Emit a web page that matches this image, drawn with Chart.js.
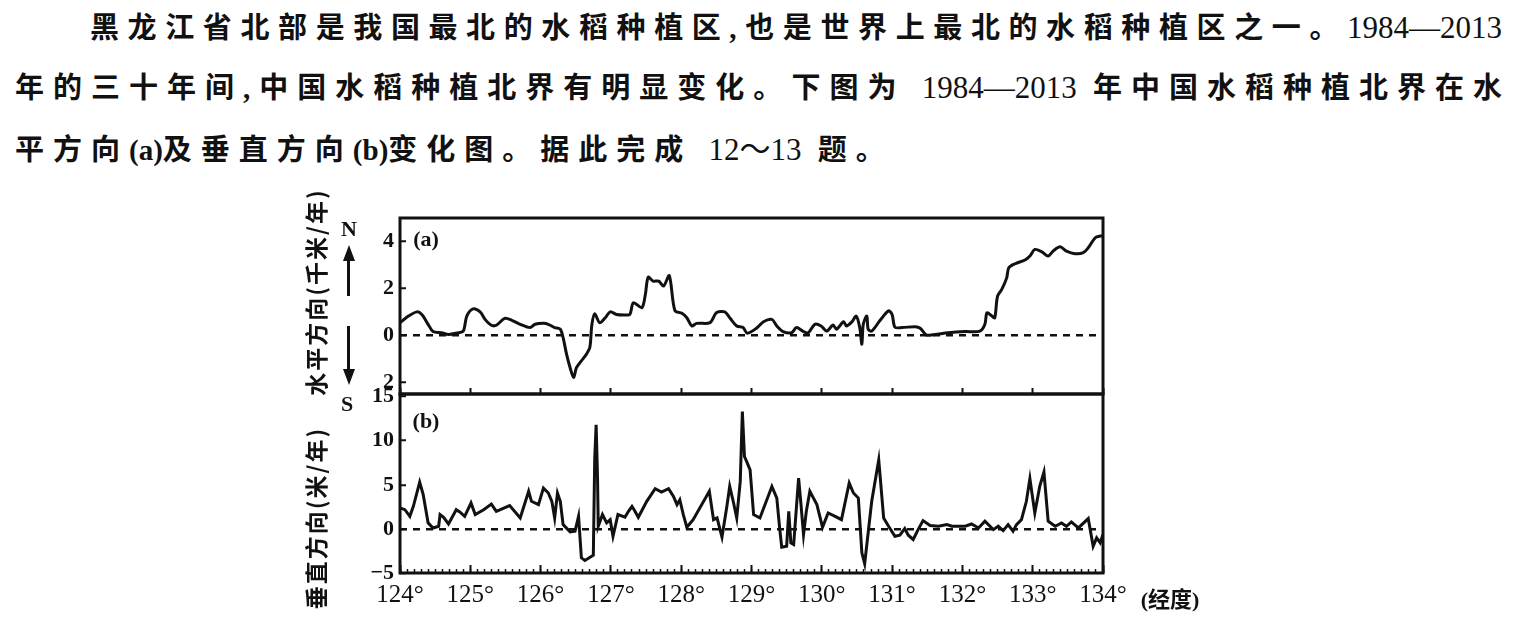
<!DOCTYPE html>
<html>
<head>
<meta charset="utf-8">
<script src="https://cdn.jsdelivr.net/npm/chart.js@4"></script>
<style>
  body { margin: 0; width: 1515px; height: 626px; background: #fff; overflow: hidden; position: relative;
         font-family: "Liberation Serif", "Noto Sans CJK SC", serif; color: #111; }
  .ln { position: absolute; font-size: 29px; font-weight: bold; line-height: 36px; }
  .just { text-align: justify; text-align-last: justify; }
  .num { font-weight: normal; font-size: 31px; letter-spacing: 0; }
  .lat { letter-spacing: 0; }
  canvas { position: absolute; }
  .lbl { position: absolute; font-weight: bold; white-space: nowrap; transform: translate(-50%, -50%); }
  .ttl { position: absolute; font-family: "Noto Sans CJK SC"; font-weight: bold; font-size: 23px; white-space: nowrap;
         letter-spacing: 2px; transform: translate(-50%, -50%) rotate(-90deg); }
  .shaft { position: absolute; width: 3px; background: #111; }
  .up { position: absolute; width: 0; height: 0; border-left: 6px solid transparent; border-right: 6px solid transparent; border-bottom: 16px solid #111; }
  .dn { position: absolute; width: 0; height: 0; border-left: 6px solid transparent; border-right: 6px solid transparent; border-top: 16px solid #111; }
</style>
</head>
<body>
<div class="ln just" style="left:90px;top:10px;width:1412px">黑龙江省北部是我国最北的水稻种植区,也是世界上最北的水稻种植区之一。<span class="num">1984—2013</span></div>
<div class="ln just" style="left:15px;top:70px;width:1487px">年的三十年间,中国水稻种植北界有明显变化。下图为 <span class="num">1984—2013</span> 年中国水稻种植北界在水</div>
<div class="ln" style="left:15px;top:132px;letter-spacing:9px">平方向<span class="lat">(a)</span>及垂直方向<span class="lat">(b)</span>变化图。据此完成 <span class="num">12～13</span> 题。</div>

<canvas id="chartA" width="863" height="240" style="left:300px;top:180px"></canvas>
<canvas id="chartB" width="863" height="252" style="left:300px;top:368px"></canvas>

<div class="ttl" style="left:315px;top:292px">水平方向(千米/年)</div>
<div class="ttl" style="left:315px;top:518px">垂直方向(米/年)</div>
<div class="lbl" style="left:349px;top:229px;font-size:22px">N</div>
<div class="up" style="left:343px;top:245px"></div>
<div class="shaft" style="left:347px;top:258px;height:38px"></div>
<div class="shaft" style="left:347px;top:326px;height:45px"></div>
<div class="dn" style="left:343px;top:369px"></div>
<div class="lbl" style="left:347px;top:404px;font-size:22px">S</div>
<div class="lbl" style="left:426px;top:239px;font-size:22px">(a)</div>
<div class="lbl" style="left:426px;top:421px;font-size:22px">(b)</div>
<div class="lbl" style="left:1170px;top:597px;font-size:22px;font-family:'Liberation Serif','Noto Sans CJK SC'">(经度)</div>

<script>
// (a) horizontal shift of the northern limit, km/yr
var lonA = [124.00, 124.12, 124.24, 124.31, 124.40, 124.47, 124.59, 124.69, 124.81, 124.90,
  124.95, 125.04, 125.14, 125.21, 125.30, 125.37, 125.49, 125.59, 125.71, 125.85,
  125.92, 126.04, 126.11, 126.20, 126.28, 126.32, 126.37, 126.42, 126.47, 126.51,
  126.58, 126.65, 126.70, 126.73, 126.77, 126.84, 126.92, 126.99, 127.08, 127.20,
  127.27, 127.32, 127.44, 127.49, 127.53, 127.60, 127.68, 127.75, 127.83, 127.91,
  128.01, 128.08, 128.15, 128.22, 128.41, 128.50, 128.62, 128.69, 128.79, 128.88,
  128.94, 129.07, 129.17, 129.29, 129.36, 129.45, 129.57, 129.64, 129.74, 129.81,
  129.90, 129.99, 130.07, 130.16, 130.21, 130.31, 130.35, 130.43, 130.49, 130.54,
  130.57, 130.59, 130.64, 130.66, 130.71, 130.83, 130.95, 131.00, 131.04, 131.14,
  131.33, 131.40, 131.49, 131.61, 131.80, 132.04, 132.25, 132.32, 132.35, 132.42,
  132.46, 132.50, 132.56, 132.63, 132.66, 132.75, 132.89, 132.96, 133.03, 133.13,
  133.22, 133.29, 133.39, 133.48, 133.60, 133.72, 133.79, 133.89, 133.96, 134.00];
var valA = [0.54, 0.82, 1.00, 0.89, 0.47, 0.16, 0.11, 0.04, 0.10, 0.18,
  0.82, 1.13, 1.00, 0.68, 0.43, 0.43, 0.72, 0.64, 0.47, 0.33,
  0.47, 0.51, 0.47, 0.33, 0.26, -0.10, -0.81, -1.38, -1.80, -1.38,
  -1.09, -0.81, -0.52, 0.47, 0.92, 0.54, 0.75, 1.00, 0.89, 0.87,
  0.89, 1.39, 1.18, 1.74, 2.48, 2.31, 2.31, 2.10, 2.54, 1.06,
  0.94, 0.75, 0.40, 0.51, 0.54, 0.96, 1.00, 0.75, 0.40, 0.33,
  0.09, 0.30, 0.58, 0.68, 0.40, 0.16, 0.11, 0.33, 0.16, 0.11,
  0.47, 0.40, 0.18, 0.44, 0.26, 0.58, 0.40, 0.58, 0.82, 0.33,
  -0.38, 0.47, 0.82, 0.26, 0.18, 0.64, 1.04, 0.89, 0.35, 0.33,
  0.37, 0.30, 0.01, 0.04, 0.11, 0.16, 0.18, 0.47, 0.96, 0.82,
  0.75, 1.67, 1.96, 2.45, 2.88, 3.05, 3.21, 3.38, 3.66, 3.56,
  3.38, 3.59, 3.77, 3.59, 3.48, 3.52, 3.73, 4.16, 4.23, 4.23];

// (b) vertical shift of the northern limit, m/yr
var lonB = [124.00, 124.07, 124.14, 124.19, 124.28, 124.33, 124.40, 124.47, 124.55, 124.57,
  124.62, 124.69, 124.80, 124.85, 124.92, 125.01, 125.07, 125.19, 125.30, 125.37,
  125.56, 125.71, 125.83, 125.87, 125.97, 126.04, 126.11, 126.16, 126.20, 126.24,
  126.28, 126.32, 126.42, 126.49, 126.54, 126.58, 126.63, 126.75, 126.77, 126.79,
  126.81, 126.82, 126.88, 126.94, 126.99, 127.03, 127.10, 127.20, 127.25, 127.30,
  127.33, 127.39, 127.51, 127.63, 127.72, 127.82, 127.89, 127.94, 127.98, 128.03,
  128.08, 128.17, 128.40, 128.46, 128.51, 128.58, 128.65, 128.69, 128.74, 128.79,
  128.84, 128.87, 128.90, 128.93, 128.98, 129.03, 129.12, 129.29, 129.36, 129.40,
  129.43, 129.50, 129.53, 129.56, 129.60, 129.64, 129.67, 129.70, 129.74, 129.78,
  129.83, 129.93, 130.01, 130.09, 130.19, 130.28, 130.39, 130.45, 130.52, 130.57,
  130.61, 130.71, 130.81, 130.88, 130.95, 131.04, 131.11, 131.18, 131.23, 131.30,
  131.37, 131.44, 131.54, 131.66, 131.78, 131.85, 132.04, 132.13, 132.23, 132.32,
  132.44, 132.51, 132.58, 132.65, 132.72, 132.77, 132.84, 132.91, 132.96, 133.03,
  133.10, 133.16, 133.22, 133.32, 133.41, 133.48, 133.55, 133.65, 133.79, 133.86,
  133.91, 133.96, 134.00];
var valB = [2.37, 2.18, 1.43, 2.56, 5.30, 3.88, 0.68, 0.11, 0.30, 1.62,
  1.32, 0.56, 2.18, 1.92, 1.43, 2.94, 1.62, 2.18, 2.82, 2.00,
  2.64, 1.24, 4.26, 3.13, 2.75, 4.63, 4.07, 3.13, 1.24, 4.07,
  3.13, 0.49, -0.34, -0.26, 1.43, -3.28, -3.58, -2.98, 8.02, 11.80,
  5.76, 0.30, 1.62, 0.68, 1.05, -0.83, 1.62, 1.32, 2.00, 2.56,
  2.18, 1.32, 3.13, 4.56, 4.18, 4.56, 3.69, 2.75, 3.31, 1.62,
  0.19, 1.05, 4.26, 1.05, 1.24, -0.94, 2.56, 4.82, 3.13, 1.24,
  5.39, 13.30, 8.21, 7.65, 6.70, 1.62, 1.24, 4.82, 3.50, 0.11,
  -2.07, -1.96, 2.00, -1.58, -1.77, 2.56, 5.76, 3.13, -0.64, 2.00,
  4.26, 2.75, 0.19, 1.81, 1.43, 1.05, 5.20, 4.07, 3.50, -2.71,
  -3.95, 3.13, 7.83, 1.24, 0.30, -0.83, -0.72, 0.04, -0.72, -1.20,
  -0.08, 0.94, 0.38, 0.30, 0.49, 0.30, 0.30, 0.56, 0.11, 0.87,
  -0.08, 0.30, -0.19, 0.49, -0.26, 0.49, 1.05, 3.13, 5.69, 1.81,
  4.82, 6.44, 0.87, 0.30, 0.68, 0.30, 0.79, 0.11, 1.17, -1.96,
  -1.02, -1.58, -0.64];

var degTicks = [124, 125, 126, 127, 128, 129, 130, 131, 132, 133, 134];
var tickA = [-2, -1, 0, 1, 2, 3, 4];
var tickB = [-5, -2.5, 0, 2.5, 5, 7.5, 10, 12.5, 15];

var ink = '#111';
var minorTicks = [];
for (var i = 0; i <= 100; i++) minorTicks.push(Math.round(1240 + i) / 10);

function setTicks(list) {
  return function (scale) { scale.ticks = list.map(function (v) { return { value: v }; }); };
}

// box around each plot area
var frame = {
  id: 'frame',
  afterDraw: function (chart) {
    var a = chart.chartArea, ctx = chart.ctx;
    ctx.save();
    ctx.strokeStyle = ink;
    ctx.lineWidth = 3;
    ctx.strokeRect(a.left, a.top, a.right - a.left, a.bottom - a.top);
    ctx.restore();
  }
};

function lineData(xs, ys, tension) {
  return {
    datasets: [{
      data: xs.map(function (x, i) { return { x: x, y: ys[i] }; }),
      borderColor: ink,
      borderWidth: 3,
      pointRadius: 0,
      tension: tension,
      fill: false
    }]
  };
}

function yAxis(min, max, list, labelFn) {
  return {
    min: min, max: max,
    afterBuildTicks: setTicks(list),
    afterFit: function (s) { s.width = 100; },
    ticks: { color: ink, padding: 12, font: { family: 'Liberation Serif', size: 22, weight: 'bold' }, callback: labelFn },
    grid: {
      color: function (c) { return c.tick && c.tick.value === 0 ? ink : 'rgba(0,0,0,0)'; },
      lineWidth: 2.5, tickLength: -6, tickColor: ink, tickWidth: 2
    },
    border: { display: false, dash: [7, 6] }
  };
}

var common = {
  responsive: false,
  animation: false,
  events: [],
  plugins: { legend: { display: false }, tooltip: { enabled: false } }
};

new Chart(document.getElementById('chartA'), {
  type: 'line',
  data: lineData(lonA, valA, 0.3),
  plugins: [frame],
  options: Object.assign({}, common, {
    layout: { padding: { left: 0, top: 38, right: 60, bottom: 26 } },
    scales: {
      x: {
        type: 'linear', min: 124, max: 134,
        afterBuildTicks: setTicks(degTicks),
        afterFit: function (s) { s.height = 0; },
        ticks: { display: false },
        grid: { drawOnChartArea: false, tickLength: -6, tickColor: ink, tickWidth: 2 },
        border: { display: false }
      },
      y: yAxis(-2.5, 5, tickA, function (v) { return v % 2 === 0 ? String(Math.abs(v)) : ''; })
    }
  })
});

new Chart(document.getElementById('chartB'), {
  type: 'line',
  data: lineData(lonB, valB, 0),
  plugins: [frame],
  options: Object.assign({}, common, {
    layout: { padding: { left: 0, top: 26, right: 60, bottom: 7 } },
    scales: {
      x: {
        type: 'linear', min: 124, max: 134, weight: 2,
        afterBuildTicks: setTicks(degTicks),
        afterFit: function (s) { s.height = 40; },
        ticks: { color: ink, padding: 15, autoSkip: false, maxRotation: 0,
                 font: { family: 'Liberation Serif', size: 25 },
                 callback: function (v) { return v + '°'; } },
        grid: { drawOnChartArea: false, tickLength: -8, tickColor: ink, tickWidth: 2 },
        border: { display: false }
      },
      xm: {
        type: 'linear', position: 'bottom', min: 124, max: 134, weight: 0,
        afterBuildTicks: setTicks(minorTicks),
        afterFit: function (s) { s.height = 0; },
        ticks: { display: false },
        grid: { drawOnChartArea: false, tickLength: -4, tickColor: ink, tickWidth: 1.5 },
        border: { display: false }
      },
      y: yAxis(-5, 15.3, tickB, function (v) { return v % 5 === 0 ? (v < 0 ? '−' + (-v) : String(v)) : ''; })
    }
  })
});
</script>
</body>
</html>
